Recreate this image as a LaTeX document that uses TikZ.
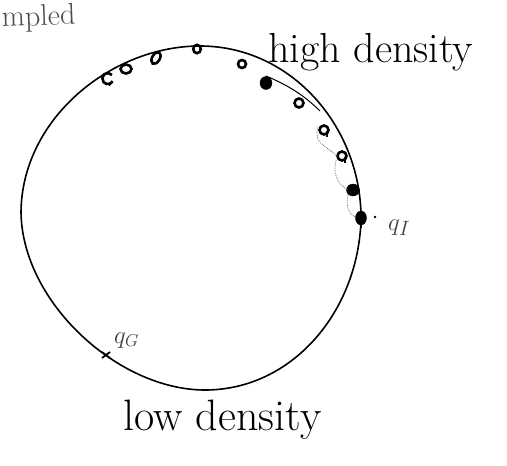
\documentclass[tikz,border=0pt]{standalone}
\begin{document}
\begin{tikzpicture}[x=1pt,y=-1pt,
  curve/.style={line width=1.6pt, line cap=round, line join=round},
  openloop/.style={line width=2.6pt},
  fullloop/.style={fill=black},
  link/.style={densely dotted, line width=0.7pt, black!65},
  hand/.style={inner sep=0pt, anchor=base west, text=black}]
\useasboundingbox (0,0) rectangle (507,466);

% main closed curve
\draw[curve] (200,46) .. controls (292,46) and (362,128) .. (361,220)
  .. controls (358,312) and (292,390) .. (205,390)
  .. controls (118,390) and (22,302) .. (21,212)
  .. controls (22,118) and (112,46) .. cycle;

% second thin stroke
\draw[line width=1pt] (266,76) .. controls (288,85) and (305,96) .. (320,111);

% sample loops
\coordinate (s1) at (108,78);
\coordinate (s2) at (126,69);
\coordinate (s3) at (156,58);
\coordinate (s4) at (197,49);
\coordinate (s5) at (242,64);
\coordinate (s6) at (266,83);
\coordinate (s7) at (299,103);
\coordinate (s8) at (324,130);
\coordinate (s9) at (342,156);
\coordinate (s10) at (353,190);
\coordinate (s11) at (361,218);
\coordinate (qg) at (106,355);
\coordinate (qidot) at (375,217);

\draw[openloop] ([shift={(4,-3)}]s1) arc[start angle=-40, end angle=-330, radius=5.5] -- ++(-4,4);
\draw[openloop] (s2) ellipse[x radius=5.5, y radius=4.5];
\draw[openloop, rotate around={60:(s3)}] (s3) ellipse[x radius=6.5, y radius=3.8];
\draw[openloop] (s4) ellipse[x radius=3.8, y radius=4.2];
\draw[openloop] (s5) circle[radius=4];
\draw[fullloop] (s6) ellipse[x radius=6, y radius=6.5];
\draw[openloop] (s7) circle[radius=4.5];
\draw[openloop] (s8) circle[radius=4.5];
\draw[openloop] ([shift={(3,1)}]s8) -- ++(0,5.5);
\draw[openloop] (s9) circle[radius=4.5];
\draw[openloop] ([shift={(3,1)}]s9) -- ++(0,5.5);
\draw[fullloop] (s10) ellipse[x radius=6.5, y radius=6];
\draw[fullloop] (s11) ellipse[x radius=5.5, y radius=7];
\draw[line width=1.6pt] (s11) -- ++(0,10);

% dotted links between the last samples
\draw[link] ([shift={(-6,-3)}]s8) .. controls ([shift={(-12,18)}]s8) and ([shift={(-8,-10)}]s9) .. ([shift={(-4,4)}]s9);
\draw[link] ([shift={(-6,4)}]s9) .. controls ([shift={(-10,22)}]s9) and ([shift={(-12,-4)}]s10) .. ([shift={(-5,0)}]s10);
\draw[link] ([shift={(-5,5)}]s10) .. controls ([shift={(-8,20)}]s10) and ([shift={(-10,-4)}]s11) .. ([shift={(-5,0)}]s11);

% q_G marker
\draw[line width=1.8pt] ([shift={(-4,-3)}]qg) -- ([shift={(4,3)}]qg)
  ([shift={(-4,3)}]qg) -- ([shift={(4,-3)}]qg);
\fill (qidot) circle[radius=1.3];

% labels
\node[hand, text=black!75, font=\fontsize{30}{32}\selectfont] (qIlabel) at (388,230) {$q_I$};
\node[hand, text=black!75, font=\fontsize{27}{30}\selectfont] (qGlabel) at (114,343) {$q_G$};
\node[hand, font=\fontsize{42}{46}\selectfont] (high) at (268,62) {high density};
\node[hand, font=\fontsize{44}{48}\selectfont] (low) at (123,430) {low density};
\node[hand, text=black!70, font=\fontsize{30}{33}\selectfont, rotate=2] (sampled) at (2,27) {mpled};
\end{tikzpicture}
\end{document}
